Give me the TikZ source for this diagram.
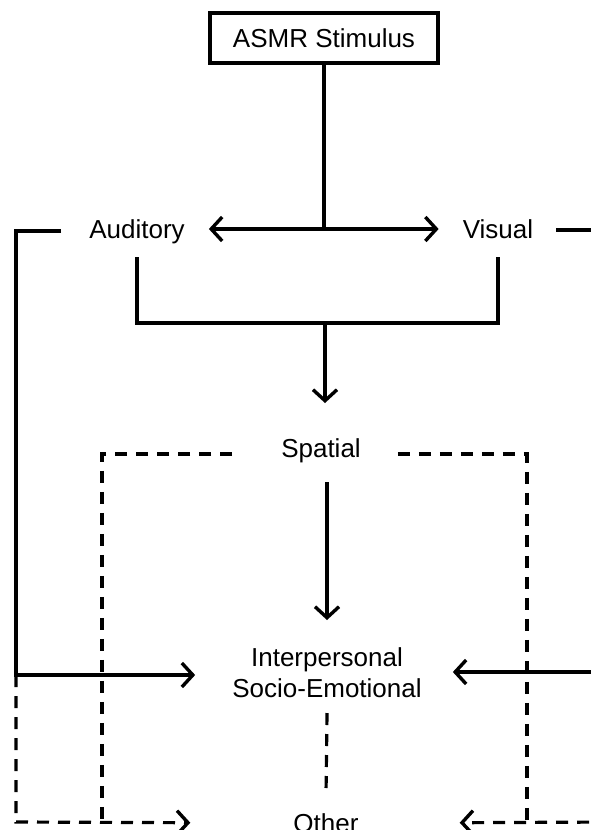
\documentclass[tikz,border=0pt]{standalone}
\usepackage{fontspec}
\setmainfont{Liberation Sans}
\usetikzlibrary{arrows.meta,calc}
\begin{document}
\begin{tikzpicture}[x=1pt,y=-1pt,
  ln/.style={line width=3.2pt},
  dsh/.style={line width=3.2pt,dash pattern=on 12pt off 9pt},
  tip/.style={-{Straight Barb[length=11pt,width=24pt,line width=3.4pt]}},
  lbl/.style={inner sep=0pt,text height=22pt,text depth=3.4pt,font=\fontsize{26}{31}\selectfont},
  box/.style={draw,line width=3.2pt,minimum width=228pt,minimum height=50pt,inner sep=0pt,font=\fontsize{26}{31}\selectfont}]
\useasboundingbox (0,0) rectangle (591,830);
\clip (0,0) rectangle (591,830);
% nodes
\node[box] (stim) at (324,38) {ASMR Stimulus};
\node[lbl] (aud) at (137,229) {Auditory};
\node[lbl] (vis) at (498,229) {Visual};
\node[lbl] (spat) at (321,448) {Spatial};
\node[inner sep=0pt,align=center,font=\fontsize{26}{31}\selectfont] (inter) at (327,673) {Interpersonal\\Socio-Emotional};
\node[inner sep=0pt,anchor=base,font=\fontsize{26}{31}\selectfont] (other) at (326,832) {Other};
% coordinates
\coordinate (j1) at (stim.south |- aud.center);
\coordinate (lc) at (16,675);
\coordinate (m) at (325,323);
\coordinate (lb) at (16,822);
\coordinate (rb) at (610,822);
\path ([yshift=45pt]spat.center) coordinate (s0);
\path ([yshift=-34pt]spat.center) coordinate (s1);
\path ([yshift=53pt]inter.center) coordinate (i1);
% stimulus split
\draw[ln] (stim.south) -- (j1);
\draw[ln,tip] (j1) -- ([xshift=24pt]aud.east);
\draw[ln,tip] (j1) -- ([xshift=-24pt]vis.west);
% outer solid brackets
\draw[ln,tip] ([xshift=-28pt,yshift=-2pt]aud.west) -| (lc) -- ([xshift=-37pt,yshift=-2pt]inter.west);
\draw[ln,tip] ([xshift=23pt,yshift=-1pt]vis.east) -- ++(50,0) |- ([xshift=31pt,yshift=1pt]inter.east);
% merge to spatial
\draw[ln] ([yshift=-28pt]aud.center) |- (m) -| ([yshift=-28pt]vis.center);
\draw[ln,tip] (m) -- (m |- s0);
% spatial to interpersonal
\draw[ln,tip] (s1 -| inter.center) -- (i1);
% dashed paths
\draw[dsh] ([xshift=-49pt,yshift=-6pt]spat.west) -| ([xshift=-224pt]other.center);
\draw[dsh] ([xshift=37pt,yshift=-6pt]spat.east) -| ([xshift=201pt]other.center);
\draw[dsh,tip] (lc) -- (lb) -- ([xshift=-103pt]other.west);
\draw[dsh,tip] (rb) -- ([xshift=101pt]other.east);
\draw[dsh] ([yshift=-40pt]inter.center) -- ([yshift=28pt]other.center);
\end{tikzpicture}
\end{document}
